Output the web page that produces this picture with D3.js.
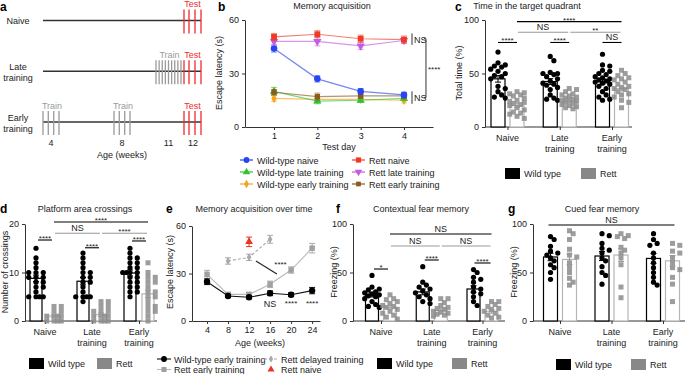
<!DOCTYPE html>
<html>
<head>
<meta charset="utf-8">
<script src="https://cdn.jsdelivr.net/npm/d3@7"></script>
<style>
  body { margin: 0; background: #fff; }
  svg { font-family: "Liberation Sans", Arial, sans-serif; }
</style>
</head>
<body>
<div id="chart"></div>
<script>
// ---- panel a: training schedule (weeks) ----
const scheduleRows = ["Naive", "Late training", "Early training"];
const ageTicks = [4, 8, 11, 12];
const earlyTrain = [3.5, 3.83, 4.17, 4.5, 7.5, 7.83, 8.17, 8.5];
const lateTrain = [10.5, 10.625, 10.75, 10.875, 11, 11.125, 11.25, 11.375, 11.5];
const testSessions = [11.65, 11.9, 12.2, 12.5];

// ---- panel b: memory acquisition ----
const testDay = [1, 2, 3, 4];
const bNames = ["Wild-type naive", "Rett naive", "Wild-type late training", "Rett late training", "Wild-type early training", "Rett early training"];
const bWtNaive = [44, 27, 20, 18];
const bRettNaive = [50.5, 52, 49.5, 49];
const bWtLate = [20, 14.5, 15, 16];
const bRettLate = [48, 48, 45.5, 48.5];
const bWtEarly = [16, 15.5, 15.5, 15];
const bRettEarly = [19.5, 17, 17.5, 17.5];
const bSem = [[2, 1.8, 1.6, 1.5], [2, 2, 2, 2], [2.2, 1.5, 1.2, 1.2], [2, 2.5, 2, 1.5], [1.6, 1.5, 1.5, 1.5], [1.5, 2, 1.5, 1.5]];

// ---- bar + scatter panels (c, d, f, g) ----
const groupNames = ["Naive", "Late training", "Early training"];

const cWt = [
  [70, 60, 58, 57, 56, 54, 52, 50, 48, 47, 45, 38, 36, 33, 30, 28, 27],
  [66, 62, 51, 50, 50, 49, 47, 45, 43, 41, 40, 39, 37, 35, 30, 27, 26, 25],
  [68, 58, 57, 53, 52, 50, 49, 47, 46, 45, 44, 43, 42, 41, 40, 38, 36, 33, 30, 28, 26, 25]];
const cRett = [
  [33, 32, 31, 30, 29, 27, 25, 24, 23, 22, 21, 20, 18, 16, 14, 13, 12, 10, 8],
  [36, 35, 33, 31, 30, 29, 28, 27, 26, 25, 25, 24, 23, 22, 21, 20, 19, 18, 17],
  [53, 50, 48, 46, 45, 44, 42, 40, 38, 37, 36, 35, 33, 31, 30, 28, 25, 23, 18]];
const cWtMean = [45, 42.5, 42.5];
const cRettMean = [20, 24, 36];

const dWt = [
  [15, 13, 12, 11, 10, 10, 10, 9, 9, 9, 8, 8, 7, 7, 6, 5, 5, 5, 5],
  [14, 13, 12, 11, 10, 10, 9, 9, 8, 8, 7, 6, 5, 5, 5, 5, 4],
  [15, 14, 13, 13, 12, 12, 11, 11, 10, 10, 10, 10, 9, 9, 8, 8, 7, 7, 6, 6, 5]];
const dRett = [
  [3, 3, 2, 2, 1, 1, 1, 1, 0, 0, 0, 0],
  [4, 4, 3, 3, 2, 2, 2, 1, 1, 1, 1, 0, 0, 0, 0],
  [12, 10, 9, 9, 8, 8, 7, 6, 6, 5, 5, 4, 3, 3, 2, 2, 1, 0]];
const dWtMean = [8.8, 8.2, 9.9];
const dRettMean = [1, 1.3, 5.6];

const fWt = [
  [47, 35, 33, 32, 30, 29, 28, 27, 26, 25, 23, 20, 17, 15, 14],
  [56, 40, 37, 35, 33, 31, 29, 27, 25, 23, 20, 18],
  [53, 50, 45, 43, 40, 35, 33, 30, 28, 25, 20, 16]];
const fRett = [
  [27, 23, 22, 20, 18, 16, 15, 14, 12, 10, 8, 6, 4, 2],
  [23, 23, 19, 16, 14, 13, 12, 10, 9, 8, 7, 6, 5],
  [20, 20, 17, 15, 13, 12, 10, 8, 6, 4, 3]];
const fWtMean = [27, 30, 33];
const fRettMean = [14, 11, 10];

const gWt = [
  [87, 84, 77, 72, 70, 68, 65, 62, 58, 55, 50, 43],
  [90, 88, 80, 75, 73, 70, 65, 62, 56, 50, 47, 38],
  [90, 84, 80, 78, 70, 65, 60, 55, 50, 45, 40, 37]];
const gRett = [
  [93, 90, 84, 74, 68, 66, 60, 55, 50, 44, 40, 37],
  [90, 88, 87, 85, 76, 73, 70, 65, 58, 35, 24],
  [80, 78, 72, 70, 65, 60, 55, 53, 45, 38, 20]];
const gWtMean = [66, 67, 64.5];
const gRettMean = [63.5, 68, 62];

// ---- panel e: acquisition over time ----
const ageWeeks = [4, 8, 12, 16, 20, 24];
const eWtEarly = [24.8, 15.8, 15, 17.5, 16.6, 19.2];
const eWtEarlySem = [1.8, 1, 1, 1.5, 1.2, 2];
const eRettEarly = [29.5, 16.8, 16.8, 23.2, 32.2, 46];
const eRettEarlySem = [2.5, 1.2, 1.2, 2, 2, 3];
const delayedAge = [8, 12, 16];
const eRettDelayed = [37.9, 40.2, 51.6];
const eRettDelayedSem = [2, 2, 2.5];
const naiveAge = [12];
const eRettNaive = [50];
const eRettNaiveSem = [3];

const WT = "#000", RETT = "#8c8c8c", RETT_LINE = "#b9b9b9", TXT = "#222", AX = "#333";

const svg = d3.select("#chart").append("svg").attr("width", 685).attr("height", 374);

function letter(x, y, t) {
  svg.append("text").attr("x", x).attr("y", y).attr("font-size", 12).attr("font-weight", "bold").text(t);
}
function title(x, y, t) {
  svg.append("text").attr("x", x).attr("y", y).attr("text-anchor", "middle").attr("font-size", 9).attr("fill", TXT).text(t);
}
function yLabel(x, cy, t) {
  svg.append("text").attr("transform", `translate(${x},${cy}) rotate(-90)`).attr("text-anchor", "middle")
    .attr("font-size", 9).attr("fill", TXT).text(t);
}
function styleAxis(sel) {
  sel.selectAll("path,line").attr("stroke", AX).attr("stroke-width", 1);
  sel.selectAll("text").attr("font-size", 9).attr("fill", TXT).attr("font-family", "Liberation Sans, Arial, sans-serif");
}

// ================= panel a =================
letter(0, 11, "a");
const xA = d3.scaleLinear().domain([3.5, 4.5, 7.5, 8.5, 10.5, 11.5, 12.5]).range([43, 59, 114, 130, 156, 181, 201]);
const rowY = d3.scalePoint().domain(scheduleRows).range([20.5, 122]);
const trainOf = { "Naive": [], "Late training": lateTrain, "Early training": earlyTrain };
scheduleRows.forEach(r => {
  const y = rowY(r);
  const words = r.split(" ");
  svg.append("text").attr("x", 18).attr("y", words.length > 1 ? y - 1 : y + 3).attr("text-anchor", "middle")
    .attr("font-size", 9).attr("fill", TXT)
    .selectAll("tspan").data(words).join("tspan").attr("x", 18).attr("dy", (d, i) => i ? 10.5 : 0).text(d => d);
  svg.append("line").attr("x1", xA(3.5)).attr("x2", xA(12.5)).attr("y1", y).attr("y2", y)
    .attr("stroke", "#333").attr("stroke-width", 1.4);
  svg.selectAll(null).data(trainOf[r]).join("line")
    .attr("x1", d => xA(d)).attr("x2", d => xA(d)).attr("y1", y - 11).attr("y2", y + 13)
    .attr("stroke", "#9a9a9a").attr("stroke-width", 1.3);
  svg.selectAll(null).data(testSessions).join("line")
    .attr("x1", d => xA(d)).attr("x2", d => xA(d)).attr("y1", y - 11).attr("y2", y + 13)
    .attr("stroke", "#ee2b2b").attr("stroke-width", 1.3);
  svg.append("text").attr("x", xA(12.08)).attr("y", y - 13.5).attr("text-anchor", "middle")
    .attr("font-size", 9).attr("fill", "#ee2b2b").text("Test");
});
// Train labels
[[lateTrain, "Late training"], [earlyTrain.slice(0, 4), "Early training"], [earlyTrain.slice(4), "Early training"]].forEach(([s, r]) => {
  svg.append("text").attr("x", xA(d3.mean(s)) + 1).attr("y", rowY(r) - 13.5).attr("text-anchor", "middle")
    .attr("font-size", 9).attr("fill", "#9a9a9a").text("Train");
});
svg.selectAll(null).data(ageTicks).join("text")
  .attr("x", d => xA(d) + (d === 12 ? 2 : 0)).attr("y", 146).attr("text-anchor", "middle")
  .attr("font-size", 9).attr("fill", TXT).text(d => d);
svg.append("text").attr("x", 122).attr("y", 158).attr("text-anchor", "middle").attr("font-size", 9).attr("fill", TXT).text("Age (weeks)");

// ================= panel b =================
letter(218, 11, "b");
title(332, 9, "Memory acquisition");
yLabel(222, 73, "Escape latency (s)");
const xB = d3.scaleLinear().domain([0.33, 4.67]).range([245, 433]);
const yB = d3.scaleLinear().domain([0, 60]).range([127, 20]);
svg.append("g").attr("transform", "translate(245,0)")
  .call(d3.axisLeft(yB).tickValues([0, 30, 60]).tickSize(3).tickSizeOuter(0)).call(styleAxis);
svg.append("g").attr("transform", "translate(0,127)")
  .call(d3.axisBottom(xB).tickValues(testDay).tickSize(3).tickSizeOuter(0).tickFormat(d3.format("d"))).call(styleAxis);
svg.append("text").attr("x", 339).attr("y", 150).attr("text-anchor", "middle").attr("font-size", 9).attr("fill", TXT).text("Test day");

const bValues = [bWtNaive, bRettNaive, bWtLate, bRettLate, bWtEarly, bRettEarly];
const bColors = ["#2745f0", "#f03a26", "#34c234", "#c35ce2", "#f6a320", "#8b5a1f"];
const bSym = [d3.symbolCircle, d3.symbolSquare, d3.symbolTriangle, d3.symbolTriangle, d3.symbolDiamond, d3.symbolSquare];
const bRot = [0, 0, 0, 180, 0, 0];
const bSize = [34, 34, 30, 30, 26, 28];
const bOrder = [4, 2, 5, 0, 3, 1];
bOrder.forEach(i => {
  const vals = bValues[i];
  const gS = svg.append("g");
  gS.append("path").datum(vals).attr("fill", "none").attr("stroke", bColors[i]).attr("stroke-opacity", 0.65).attr("stroke-width", 1.2)
    .attr("d", d3.line().x((d, k) => xB(testDay[k])).y(d => yB(d)));
  vals.forEach((v, k) => {
    const x = xB(testDay[k]), e = bSem[i][k];
    gS.append("path").attr("d", `M${x - 3},${yB(v + e)}H${x + 3}M${x},${yB(v + e)}V${yB(v - e)}M${x - 3},${yB(v - e)}H${x + 3}`)
      .attr("stroke", bColors[i]).attr("stroke-opacity", 0.6).attr("stroke-width", 1).attr("fill", "none");
  });
  gS.selectAll(null).data(vals).join("path")
    .attr("transform", (d, k) => `translate(${xB(testDay[k])},${yB(d)}) rotate(${bRot[i]})`)
    .attr("d", d3.symbol(bSym[i], bSize[i])).attr("fill", bColors[i]);
});
// significance brackets (panel b)
const bBracketX = xB(4) + 8;
[[46, 52.5], [13, 20]].forEach(([lo, hi]) => {
  svg.append("line").attr("x1", bBracketX).attr("x2", bBracketX).attr("y1", yB(hi)).attr("y2", yB(lo))
    .attr("stroke", "#999").attr("stroke-width", 2);
  svg.append("text").attr("x", bBracketX + 2).attr("y", yB((lo + hi) / 2) + 3.5).attr("font-size", 9).attr("fill", TXT).text("NS");
});
svg.append("path").attr("d", `M${bBracketX + 12},${yB(49.5)}H${bBracketX + 14}V${yB(16.5)}H${bBracketX + 12}`)
  .attr("fill", "none").attr("stroke", "#333").attr("stroke-width", 1);
svg.append("text").attr("x", bBracketX + 16).attr("y", yB(33) + 4).attr("font-size", 8).attr("fill", TXT).text("****");

// legend b
const bLegendPos = [[240, 160], [352, 160], [240, 172], [352, 172], [240, 184], [352, 184]];
bNames.forEach((n, i) => {
  const [x, y] = bLegendPos[i];
  svg.append("line").attr("x1", x).attr("x2", x + 13).attr("y1", y).attr("y2", y).attr("stroke", bColors[i]).attr("stroke-width", 1.2);
  svg.append("path").attr("transform", `translate(${x + 6.5},${y}) rotate(${bRot[i]})`).attr("d", d3.symbol(bSym[i], bSize[i] * 0.8)).attr("fill", bColors[i]);
  svg.append("text").attr("x", x + 17).attr("y", y + 3.5).attr("font-size", 9).attr("fill", TXT).text(n);
});

// ================= bar + scatter panels =================
// simple beeswarm: try offsets 0, +s, -s, +2s, ... and keep the first free spot
function swarm(values, y, cx, r, maxOff) {
  const placed = [];
  values.slice().sort((a, b) => b - a).forEach(v => {
    const py = y(v);
    let best = cx, bestD = -1;
    for (let k = 0; k <= 14; k++) {
      const off = (k % 2 ? 1 : -1) * Math.ceil(k / 2) * r * 1.4;
      if (Math.abs(off) > maxOff) continue;
      const px = cx + off;
      const md = placed.length ? d3.min(placed, p => Math.hypot(p.x - px, p.y - py)) : Infinity;
      if (md >= 2 * r * 0.85) { best = px; bestD = Infinity; break; }
      if (md > bestD) { bestD = md; best = px; }
    }
    placed.push({ x: best, y: py, v });
  });
  return placed;
}

function barPanel(o) {
  const g = svg.append("g");
  const y = d3.scaleLinear().domain([0, o.yMax]).range([o.y0, o.y1]);
  const gx = d3.scalePoint().domain(groupNames).range(o.centers);
  const sx = (gi, s) => gx(groupNames[gi]) + (s ? o.off : -o.off);

  g.append("g").attr("transform", `translate(${o.axisX},0)`)
    .call(d3.axisLeft(y).tickValues(o.ticks).tickSize(3).tickSizeOuter(0)).call(styleAxis);
  g.append("line").attr("x1", o.axisX).attr("x2", o.axisEnd).attr("y1", o.y0).attr("y2", o.y0).attr("stroke", AX);
  g.append("g").attr("transform", `translate(0,${o.y0})`)
    .call(d3.axisBottom(gx).tickSize(3).tickFormat(""))
    .call(a => a.select(".domain").remove()).call(styleAxis);
  groupNames.forEach(n => {
    g.append("text").attr("text-anchor", "middle").attr("font-size", 9).attr("fill", TXT)
      .selectAll("tspan").data(n.split(" ")).join("tspan")
      .attr("x", gx(n)).attr("y", (d, i) => o.y0 + 14 + i * 10.5).text(d => d);
  });

  [[o.wt, o.wtMean, 0], [o.rett, o.rettMean, 1]].forEach(([pts, means, s]) => {
    pts.forEach((vals, gi) => {
      const cx = sx(gi, s);
      const col = s ? "#b5b5b5" : "#000";
      g.append("rect").attr("x", cx - o.bw / 2).attr("y", y(means[gi])).attr("width", o.bw)
        .attr("height", o.y0 - y(means[gi])).attr("fill", "#fff").attr("stroke", col).attr("stroke-width", 1.2);
      const placed = swarm(vals, y, cx, 2.6, o.bw / 2 + 2.5);
      if (s) {
        g.selectAll(null).data(placed).join("rect").attr("x", d => d.x - 2.5).attr("y", d => d.y - 2.5)
          .attr("width", 5).attr("height", 5).attr("fill", RETT).attr("opacity", 0.85);
      } else {
        g.selectAll(null).data(placed).join("circle").attr("cx", d => d.x).attr("cy", d => d.y).attr("r", 2.6).attr("fill", WT);
      }
      const sem = d3.deviation(vals) / Math.sqrt(vals.length);
      const m = means[gi];
      g.append("path").attr("d", `M${cx - 3},${y(m + sem)}H${cx + 3}M${cx},${y(m + sem)}V${y(Math.max(0, m - sem))}M${cx - 3},${y(Math.max(0, m - sem))}H${cx + 3}`)
        .attr("stroke", s ? "#999" : "#000").attr("stroke-width", 1).attr("fill", "none");
    });
  });

  o.brackets.forEach(b => {
    const x1 = sx(b.a[0], b.a[1]) + (b.pad || 0), x2 = sx(b.b[0], b.b[1]) - (b.pad || 0);
    g.append("line").attr("x1", x1).attr("x2", x2).attr("y1", y(b.y)).attr("y2", y(b.y))
      .attr("stroke", b.color || "#000").attr("stroke-width", 1.1);
    const stars = b.text.startsWith("*");
    g.append("text").attr("x", (x1 + x2) / 2).attr("y", y(b.y) - (stars ? -1 : 2)).attr("text-anchor", "middle")
      .attr("font-size", stars ? 8 : 9).attr("fill", TXT).text(b.text);
  });

  const [lx, ly] = o.legend;
  g.append("rect").attr("x", lx).attr("y", ly).attr("width", 15).attr("height", 11).attr("fill", "#000");
  g.append("text").attr("x", lx + 19).attr("y", ly + 9).attr("font-size", 9).attr("fill", TXT).text("Wild type");
  g.append("rect").attr("x", lx + o.legendGap).attr("y", ly).attr("width", 15).attr("height", 11).attr("fill", "#888");
  g.append("text").attr("x", lx + o.legendGap + 19).attr("y", ly + 9).attr("font-size", 9).attr("fill", TXT).text("Rett");
}

// panel c
letter(455, 11, "c");
title(527, 9, "Time in the target quadrant");
yLabel(462, 73, "Total time (%)");
barPanel({
  yMax: 100, y0: 127, y1: 20, ticks: [0, 50, 100], axisX: 485, axisEnd: 632,
  centers: [507.5, 612], off: 9.5, bw: 14,
  wt: cWt, rett: cRett, wtMean: cWtMean, rettMean: cRettMean,
  brackets: [
    { a: [0, 0], b: [0, 1], y: 79, text: "****" },
    { a: [1, 0], b: [1, 1], y: 79, text: "****" },
    { a: [2, 0], b: [2, 1], y: 79, text: "NS" },
    { a: [0, 1], b: [1, 1], y: 88.5, text: "NS", color: "#999", pad: 1 },
    { a: [1, 1], b: [2, 1], y: 88.5, text: "**", color: "#999", pad: 1 },
    { a: [0, 1], b: [2, 1], y: 98.5, text: "****" }],
  legend: [505, 168], legendGap: 76
});

// panel d
letter(0, 213, "d");
title(85, 212, "Platform area crossings");
yLabel(8, 272, "Number of crossings");
barPanel({
  yMax: 20, y0: 321, y1: 224, ticks: [0, 10, 20], axisX: 25, axisEnd: 157,
  centers: [45, 139], off: 9, bw: 12,
  wt: dWt, rett: dRett, wtMean: dWtMean, rettMean: dRettMean,
  brackets: [
    { a: [0, 0], b: [0, 1], y: 16.7, text: "****", pad: 2 },
    { a: [1, 0], b: [1, 1], y: 15.1, text: "****", pad: 2 },
    { a: [2, 0], b: [2, 1], y: 16.5, text: "****", pad: 2 },
    { a: [0, 1], b: [1, 1], y: 18.1, text: "NS", color: "#999", pad: 1 },
    { a: [1, 1], b: [2, 1], y: 18.1, text: "****", color: "#999", pad: 1 },
    { a: [0, 1], b: [2, 1], y: 20.4, text: "****" }],
  legend: [29, 358], legendGap: 68
});

// panel f
letter(336, 213, "f");
title(421, 212, "Contextual fear memory");
yLabel(337, 272, "Freezing (%)");
barPanel({
  yMax: 100, y0: 321, y1: 224, ticks: [0, 50, 100], axisX: 353, axisEnd: 505,
  centers: [381, 482.5], off: 9, bw: 13,
  wt: fWt, rett: fRett, wtMean: fWtMean, rettMean: fRettMean,
  brackets: [
    { a: [0, 0], b: [0, 1], y: 53.6, text: "*", pad: 2 },
    { a: [1, 0], b: [1, 1], y: 62.9, text: "****", pad: 2 },
    { a: [2, 0], b: [2, 1], y: 59.8, text: "****", pad: 1 },
    { a: [0, 1], b: [1, 1], y: 77.3, text: "NS", color: "#999", pad: 1 },
    { a: [1, 1], b: [2, 1], y: 77.3, text: "NS", color: "#999", pad: 1 },
    { a: [0, 1], b: [2, 1], y: 89.7, text: "NS" }],
  legend: [377, 358], legendGap: 75
});

// panel g
letter(508, 213, "g");
title(602, 212, "Cued fear memory");
yLabel(517, 272, "Freezing (%)");
barPanel({
  yMax: 100, y0: 321, y1: 224, ticks: [0, 50, 100], axisX: 533, axisEnd: 685,
  centers: [560, 663], off: 9.5, bw: 14,
  wt: gWt, rett: gRett, wtMean: gWtMean, rettMean: gRettMean,
  brackets: [{ a: [0, 0], b: [2, 1], y: 99, text: "NS", pad: -2 }],
  legend: [556, 359], legendGap: 75
});

// ================= panel e =================
letter(166, 213, "e");
title(254, 212, "Memory acquisition over time");
yLabel(173, 272, "Escape latency (s)");
const xE = d3.scaleLinear().domain([1.14, 25.5]).range([192, 320]);
const yE = d3.scaleLinear().domain([0, 60]).range([321, 226]);
svg.append("g").attr("transform", "translate(192,0)")
  .call(d3.axisLeft(yE).tickValues([0, 30, 60]).tickSize(3).tickSizeOuter(0)).call(styleAxis);
svg.append("g").attr("transform", "translate(0,321)")
  .call(d3.axisBottom(xE).tickValues(ageWeeks).tickSize(3).tickSizeOuter(0)).call(styleAxis);
svg.append("text").attr("x", 260).attr("y", 346).attr("text-anchor", "middle").attr("font-size", 9).attr("fill", TXT).text("Age (weeks)");

function eSeries(ages, vals, sem, o) {
  const gS = svg.append("g");
  if (ages.length > 1) {
    gS.append("path").datum(vals).attr("fill", "none").attr("stroke", o.line).attr("stroke-width", 1.1)
      .attr("stroke-dasharray", o.dash || null)
      .attr("d", d3.line().x((d, k) => xE(ages[k])).y(d => yE(d)));
  }
  vals.forEach((v, k) => {
    const x = xE(ages[k]);
    gS.append("path").attr("d", `M${x - 3},${yE(v + sem[k])}H${x + 3}M${x},${yE(v + sem[k])}V${yE(v - sem[k])}M${x - 3},${yE(v - sem[k])}H${x + 3}`)
      .attr("stroke", o.err).attr("stroke-width", 1).attr("fill", "none");
  });
  gS.selectAll(null).data(vals).join("path")
    .attr("transform", (d, k) => `translate(${xE(ages[k])},${yE(d)})`)
    .attr("d", d3.symbol(o.sym, o.size)).attr("fill", o.fill);
}
const eDelayedStyle = { line: "#aaa", err: "#aaa", fill: "#aaa", sym: d3.symbolDiamond, size: 18, dash: "3,2" };
const eRettStyle = { line: RETT_LINE, err: "#aaa", fill: "#a0a0a0", sym: d3.symbolSquare, size: 30 };
const eWtStyle = { line: "#111", err: "#111", fill: "#000", sym: d3.symbolCircle, size: 32 };
const eNaiveStyle = { line: "#ee3322", err: "#ee3322", fill: "#ee3322", sym: d3.symbolTriangle, size: 26 };
eSeries(delayedAge, eRettDelayed, eRettDelayedSem, eDelayedStyle);
eSeries(ageWeeks, eRettEarly, eRettEarlySem, eRettStyle);
eSeries(ageWeeks, eWtEarly, eWtEarlySem, eWtStyle);
eSeries(naiveAge, eRettNaive, eRettNaiveSem, eNaiveStyle);

// annotations e
svg.append("line").attr("x1", xE(13.3)).attr("y1", yE(37.9)).attr("x2", xE(17.3)).attr("y2", yE(29.7))
  .attr("stroke", "#222").attr("stroke-width", 1.1);
svg.append("text").attr("x", xE(16.8)).attr("y", yE(36.6) + 4).attr("font-size", 8).attr("fill", TXT).text("****");
[[16, "NS", 9], [20, "****", 8], [24, "****", 8]].forEach(([a, t, fs]) => {
  svg.append("text").attr("x", xE(a)).attr("y", t === "NS" ? 307 : 306).attr("text-anchor", "middle")
    .attr("font-size", fs).attr("fill", TXT).text(t);
});

// legend e
const eLegend = [
  [157, 359, eWtStyle, "Wild-type early training"],
  [264, 359, eDelayedStyle, "Rett delayed training"],
  [157, 369.5, eRettStyle, "Rett early training"],
  [264, 369.5, eNaiveStyle, "Rett naive"]];
eLegend.forEach(([x, y, st, n]) => {
  if (st !== eNaiveStyle) {
    svg.append("line").attr("x1", x).attr("x2", x + 14).attr("y1", y).attr("y2", y).attr("stroke", st.line)
      .attr("stroke-width", 1.1).attr("stroke-dasharray", st.dash || null);
  }
  svg.append("path").attr("transform", `translate(${x + 7},${y})`).attr("d", d3.symbol(st.sym, st.size * 0.85)).attr("fill", st.fill);
  svg.append("text").attr("x", x + 17).attr("y", y + 3.5).attr("font-size", 9).attr("fill", TXT).text(n);
});
</script>
</body>
</html>
